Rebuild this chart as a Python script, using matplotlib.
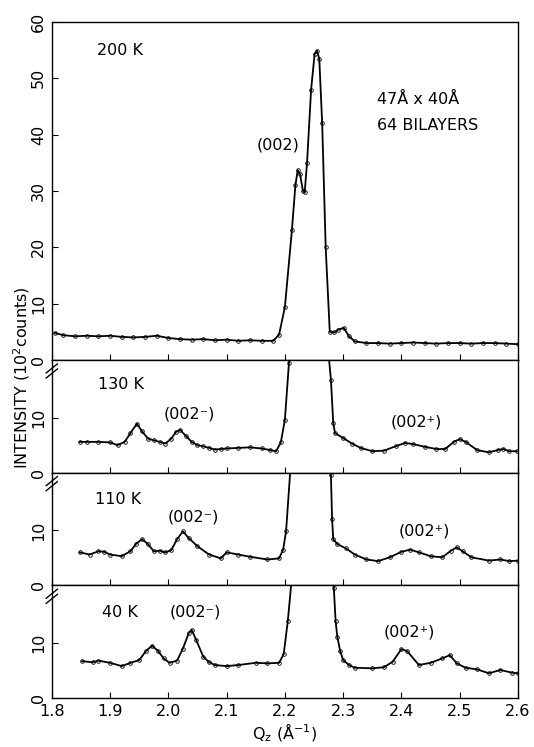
import matplotlib
matplotlib.use('Agg')
import matplotlib.pyplot as plt

# 200 K scan
q_200 = [1.805, 1.82, 1.84, 1.86, 1.88, 1.90, 1.92, 1.94, 1.96, 1.98, 2.00, 2.02, 2.04,
         2.06, 2.08, 2.10, 2.12, 2.14, 2.16, 2.18, 2.19, 2.20, 2.212, 2.218, 2.222, 2.226,
         2.231, 2.234, 2.238, 2.245, 2.251, 2.255, 2.259, 2.264, 2.270, 2.277, 2.285,
         2.292, 2.301, 2.31, 2.32, 2.34, 2.36, 2.38, 2.40, 2.42, 2.44, 2.46, 2.48, 2.50,
         2.52, 2.54, 2.56, 2.58, 2.60]
i_200 = [4.8, 4.4, 4.2, 4.3, 4.2, 4.3, 4.1, 4.0, 4.1, 4.3, 3.9, 3.7, 3.6,
         3.7, 3.5, 3.6, 3.4, 3.5, 3.4, 3.4, 4.5, 9.4, 23.0, 31.0, 33.7, 33.0,
         30.0, 29.8, 35.0, 48.0, 54.3, 54.9, 53.5, 42.0, 20.0, 5.0, 4.9,
         5.4, 5.7, 4.2, 3.3, 3.0, 3.0, 2.9, 3.0, 3.1, 3.0, 2.9, 3.0, 3.0,
         2.9, 3.0, 3.0, 2.9, 2.8]

# 130 K scan
q_130 = [1.848, 1.86, 1.88, 1.90, 1.913, 1.925, 1.935, 1.946, 1.955, 1.965, 1.975, 1.985,
         1.995, 2.005, 2.013, 2.02, 2.03, 2.04, 2.05, 2.06, 2.07, 2.08, 2.09, 2.10, 2.12,
         2.14, 2.16, 2.175, 2.185, 2.193, 2.200, 2.207, 2.22, 2.24, 2.26, 2.272, 2.279,
         2.283, 2.286, 2.30, 2.315, 2.33, 2.35, 2.37, 2.39, 2.406, 2.42, 2.44, 2.46,
         2.475, 2.49, 2.50, 2.51, 2.53, 2.55, 2.565, 2.575, 2.585, 2.598]
i_130 = [5.6, 5.6, 5.6, 5.5, 5.0, 5.6, 7.2, 8.9, 7.5, 6.2, 5.9, 5.6,
         5.3, 6.2, 7.4, 7.8, 6.7, 5.6, 5.0, 4.8, 4.5, 4.2, 4.3, 4.4, 4.5,
         4.6, 4.4, 4.1, 3.9, 5.5, 9.6, 20.0, 34.0, 40.0, 40.0, 25.0, 16.9,
         9.0, 7.2, 6.3, 5.3, 4.5, 3.9, 4.0, 4.8, 5.4, 5.2, 4.7, 4.3,
         4.3, 5.6, 6.1, 5.6, 4.1, 3.7, 4.1, 4.3, 3.9, 3.9]

# 110 K scan
q_110 = [1.848, 1.865, 1.88, 1.89, 1.90, 1.92, 1.935, 1.945, 1.955, 1.965, 1.975, 1.985,
         1.995, 2.005, 2.015, 2.025, 2.035, 2.05, 2.07, 2.09, 2.10, 2.12, 2.14, 2.17,
         2.19, 2.197, 2.202, 2.21, 2.24, 2.27, 2.279, 2.281, 2.283, 2.29, 2.305, 2.32,
         2.34, 2.36, 2.38, 2.40, 2.415, 2.43, 2.45, 2.47, 2.485, 2.495, 2.505, 2.52,
         2.55, 2.57, 2.585, 2.60]
i_110 = [6.0, 5.6, 6.2, 6.1, 5.6, 5.3, 6.2, 7.6, 8.4, 7.5, 6.2, 6.3,
         6.0, 6.4, 8.4, 9.8, 8.6, 7.1, 5.6, 4.9, 6.0, 5.6, 5.2, 4.7,
         4.9, 6.5, 9.8, 22.0, 40.0, 30.0, 20.0, 12.0, 8.4, 7.5, 6.7, 5.6,
         4.7, 4.4, 5.1, 6.1, 6.5, 6.0, 5.3, 5.1, 6.3, 6.9, 6.2, 5.1,
         4.5, 4.7, 4.4, 4.5]

# 40 K scan
q_40 = [1.852, 1.87, 1.88, 1.90, 1.92, 1.935, 1.95, 1.962, 1.972, 1.982, 1.992, 2.002,
        2.015, 2.025, 2.035, 2.04, 2.048, 2.06, 2.07, 2.08, 2.10, 2.12, 2.15, 2.17,
        2.19, 2.198, 2.205, 2.212, 2.24, 2.275, 2.284, 2.287, 2.29, 2.295, 2.30, 2.31,
        2.32, 2.35, 2.37, 2.385, 2.40, 2.41, 2.43, 2.45, 2.47, 2.483, 2.495, 2.51,
        2.53, 2.55, 2.57, 2.59, 2.60]
i_40 = [6.7, 6.5, 6.8, 6.4, 5.8, 6.4, 6.9, 8.6, 9.5, 8.6, 7.2, 6.4,
        6.8, 9.0, 11.8, 12.4, 10.5, 7.5, 6.5, 6.0, 5.8, 6.0, 6.4, 6.3,
        6.4, 8.0, 14.0, 22.0, 40.0, 30.0, 20.0, 14.0, 11.1, 8.5, 6.9, 6.0,
        5.5, 5.4, 5.6, 6.6, 8.9, 8.5, 6.0, 6.4, 7.2, 7.8, 6.3, 5.5,
        5.2, 4.5, 5.1, 4.6, 4.5]

q_ticks = [1.8, 1.9, 2.0, 2.1, 2.2, 2.3, 2.4, 2.5, 2.6]
q_ticklabels = ['1.8', '1.9', '2.0', '2.1', '2.2', '2.3', '2.4', '2.5', '2.6']

scans = [
    (q_200, i_200, '200 K'),
    (q_130, i_130, '130 K'),
    (q_110, i_110, '110 K'),
    (q_40, i_40, '40 K'),
]

plt.rcParams['font.family'] = ['DejaVu Sans']

fig = plt.figure(figsize=(5.34, 7.47), dpi=100)
gs = fig.add_gridspec(4, 1, height_ratios=[338, 112.7, 112.7, 112.7], hspace=0,
                      left=0.097, right=0.970, top=0.9705, bottom=0.0656)

axes = []
for k, (q, inten, temp) in enumerate(scans):
    ax = fig.add_subplot(gs[k])
    axes.append(ax)
    ax.plot(q, inten, color='black', lw=1.3, marker='o', ms=2.6, mfc='none', mew=0.6)
    ax.set_xlim(1.8, 2.6)
    ax.set_xticks(q_ticks)
    if k == 0:
        ax.set_ylim(0, 60)
        ax.set_yticks([0, 10, 20, 30, 40, 50, 60])
        ax.set_yticklabels(['0', '10', '20', '30', '40', '50', '60'],
                           rotation=90, va='center')
    else:
        ax.set_ylim(0, 20.5)
        ax.set_yticks([0, 10])
        ax.set_yticklabels(['0', '10'], rotation=90, va='center')
    ax.tick_params(direction='in', length=4, width=0.8, labelsize=11.5, pad=4)
    ax.tick_params(axis='x', top=False)
    if k < 3:
        ax.tick_params(axis='x', labelbottom=False)
    else:
        ax.set_xticklabels(q_ticklabels)
    for sp in ax.spines.values():
        sp.set_linewidth(1.0)
    if k > 0:
        # axis break marks on the left spine
        for dy in (0.0, 0.045):
            ax.plot([-0.012, 0.012], [0.84 + dy, 0.92 + dy], transform=ax.transAxes,
                    color='black', lw=1.0, clip_on=False)

fs = 11.5
axes[0].text(1.917, 55, '200 K', ha='center', va='center', fontsize=fs)
axes[0].text(2.188, 38.2, '(002)', ha='center', va='center', fontsize=fs)
axes[0].text(2.358, 46.2, '47Å x 40Å', ha='left', va='center', fontsize=fs)
axes[0].text(2.358, 41.7, '64 BILAYERS', ha='left', va='center', fontsize=fs)

axes[1].text(1.918, 16.1, '130 K', ha='center', va='center', fontsize=fs)
axes[1].text(2.036, 10.7, '(002⁻)', ha='center', va='center', fontsize=fs)
axes[1].text(2.425, 9.3, '(002⁺)', ha='center', va='center', fontsize=fs)

axes[2].text(1.913, 15.6, '110 K', ha='center', va='center', fontsize=fs)
axes[2].text(2.043, 12.5, '(002⁻)', ha='center', va='center', fontsize=fs)
axes[2].text(2.44, 9.8, '(002⁺)', ha='center', va='center', fontsize=fs)

axes[3].text(1.917, 15.6, '40 K', ha='center', va='center', fontsize=fs)
axes[3].text(2.046, 15.6, '(002⁻)', ha='center', va='center', fontsize=fs)
axes[3].text(2.413, 12.0, '(002⁺)', ha='center', va='center', fontsize=fs)

axes[3].set_xlabel('Q$_{\\rm z}$ (Å$^{-1}$)', fontsize=fs, labelpad=2)
fig.text(0.041, 0.494, 'INTENSITY (10$^{2}$counts)', rotation=90, ha='center',
         va='center', fontsize=fs)

fig.savefig('out.png', dpi=100)
